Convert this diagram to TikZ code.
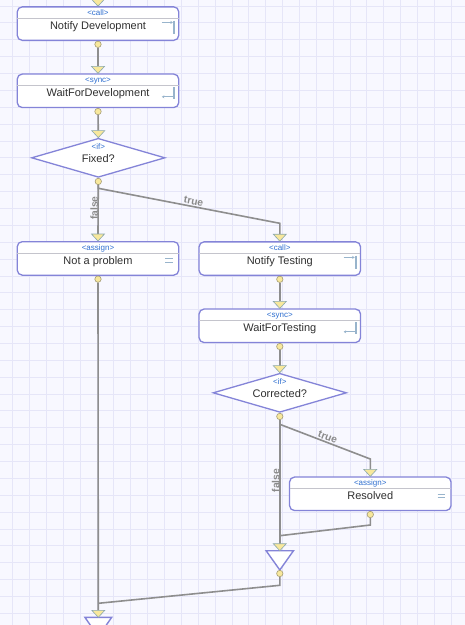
\documentclass[tikz,border=0pt]{standalone}
\usepackage{fontspec}
\setmainfont{Liberation Sans}
\usetikzlibrary{shapes.geometric,arrows.meta,calc}
\pgfdeclarelayer{back}
\pgfdeclarelayer{mid}
\pgfsetlayers{back,mid,main}
\definecolor{bgc}{HTML}{F8F8FF}
\definecolor{gridc}{HTML}{E6E6F8}
\definecolor{boxc}{HTML}{8484D8}
\definecolor{sepc}{HTML}{C4C4CC}
\definecolor{conc}{HTML}{8E8E8E}
\definecolor{yel}{HTML}{F8E89C}
\definecolor{tric}{HTML}{8AA8AC}
\definecolor{dotline}{HTML}{A49C74}
\definecolor{hdrc}{HTML}{2F6FD0}
\definecolor{ttlc}{HTML}{303030}
\definecolor{lblc}{HTML}{8A8A8A}
\definecolor{iconc}{HTML}{98B4CC}
\tikzset{
  actbox/.style={draw=boxc,fill=white,rounded corners=5pt,line width=1.3pt,
    minimum width=161.5pt,minimum height=33.5pt,inner sep=0pt},
  decis/.style={diamond,draw=boxc,fill=white,line width=1.3pt,inner sep=0pt,
    minimum width=133.5pt,minimum height=39pt},
  dotn/.style={circle,draw=dotline,fill=yel,minimum size=6.4pt,inner sep=0pt,line width=0.6pt},
  conn/.style={draw=conc,line width=1.6pt},
  intri/.style={fill=yel,draw=tric,line width=0.6pt},
  mergetri/.style={fill=white,draw=boxc,line width=1.4pt,line join=miter},
  hdr/.style={font=\fontsize{8}{9}\selectfont,text=hdrc,anchor=base,inner sep=0pt},
  ttl/.style={font=\fontsize{11}{13}\selectfont,text=ttlc,anchor=base,inner sep=0pt},
  lbl/.style={font=\bfseries\fontsize{10.3}{12}\selectfont,text=lblc,inner sep=0.8pt},
  iconln/.style={draw=iconc,line width=0.9pt},
  iconbar/.style={draw=iconc,line width=2pt},
  sepln/.style={draw=sepc,line width=0.8pt}
}
% input triangle with tip at #1, and named coordinate #2 at its top
\newcommand{\intri}[2]{%
  \filldraw[intri] ([shift={(-6.5,-7)}]#1) -- ([shift={(6.5,-7)}]#1) -- (#1) -- cycle;
  \coordinate (#2) at ([shift={(0,-7)}]#1);}
% box decorations: header, separator, title
\newcommand{\boxtexts}[3]{%
  \node[hdr] at ([shift={(0,9)}]#1.north) {#2};
  \draw[sepln] ([shift={(0.8,12.3)}]#1.north west) -- ([shift={(-0.8,12.3)}]#1.north east);
  \node[ttl] at ([shift={(0,23.5)}]#1.north) {#3};}
\newcommand{\callicon}[1]{%
  \draw[iconln,-{Stealth[length=2.5pt,width=3pt]}] ([shift={(-17.5,16.2)}]#1.north east) -- ([shift={(-6.5,16.2)}]#1.north east);
  \draw[iconbar] ([shift={(-5,14.5)}]#1.north east) -- ([shift={(-5,27.5)}]#1.north east);}
\newcommand{\syncicon}[1]{%
  \draw[iconln,{Stealth[length=2.5pt,width=3pt]}-] ([shift={(-17.5,23.4)}]#1.north east) -- ([shift={(-6,23.4)}]#1.north east);
  \draw[iconbar] ([shift={(-5,14)}]#1.north east) -- ([shift={(-5,25.8)}]#1.north east);}
\newcommand{\assignicon}[1]{%
  \draw[iconln] ([shift={(-14,17.6)}]#1.north east) -- ([shift={(-6.3,17.6)}]#1.north east);
  \draw[iconln] ([shift={(-14,21)}]#1.north east) -- ([shift={(-6.3,21)}]#1.north east);}
\begin{document}
\begin{tikzpicture}[x=1pt,y=-1pt]
\useasboundingbox (0,0) rectangle (465,625);
\clip (0,0) rectangle (465,625);
\begin{pgfonlayer}{back}
\fill[bgc] (0,0) rectangle (465,625);
\foreach \i in {0,...,27} {\draw[gridc,line width=0.8pt] (12.6+\i*16.87,0) -- (12.6+\i*16.87,625);}
\foreach \i in {0,...,37} {\draw[gridc,line width=0.8pt] (0,6+\i*16.87) -- (465,6+\i*16.87);}
\end{pgfonlayer}

% nodes
\node[actbox] (ND) at (98,23.6) {};
\node[actbox] (WD) at (98,90.8) {};
\node[decis]  (FX) at (98.3,157.8) {};
\node[actbox] (NP) at (98,258.4) {};
\node[actbox] (NT) at (279.8,258.6) {};
\node[actbox] (WT) at (279.8,325.8) {};
\node[decis]  (CR) at (279.8,392.8) {};
\node[actbox] (RS) at (370.3,493.8) {};

% texts
\boxtexts{ND}{<call>}{Notify Development}
\callicon{ND}
\boxtexts{WD}{<sync>}{WaitForDevelopment}
\syncicon{WD}
\node[hdr] at ([shift={(0,12)}]FX.north) {<if>};
\node[ttl] at ([shift={(0,24.4)}]FX.north) {Fixed?};
\boxtexts{NP}{<assign>}{Not a problem}
\assignicon{NP}
\boxtexts{NT}{<call>}{Notify Testing}
\callicon{NT}
\boxtexts{WT}{<sync>}{WaitForTesting}
\syncicon{WT}
\node[hdr] at ([shift={(0,12)}]CR.north) {<if>};
\node[ttl] at ([shift={(0,24.4)}]CR.north) {Corrected?};
\boxtexts{RS}{<assign>}{Resolved}
\assignicon{RS}

% merge triangles
\coordinate (M1) at (279.8,550.7);
\coordinate (M2) at (98.3,617.3);
\filldraw[mergetri] ([shift={(-13.7,0)}]M1) -- ([shift={(13.7,0)}]M1) -- ([shift={(0,19.3)}]M1) -- cycle;
\filldraw[mergetri] ([shift={(-13.4,0)}]M2) -- ([shift={(13.4,0)}]M2) -- ([shift={(0,19.3)}]M2) -- cycle;

% output dots
\node[dotn] (ND-out) at ([shift={(0,3.3)}]ND.south) {};
\node[dotn] (WD-out) at ([shift={(0,3.3)}]WD.south) {};
\node[dotn] (FX-out) at ([shift={(0,3.5)}]FX.south) {};
\node[dotn] (NP-out) at ([shift={(0,3.3)}]NP.south) {};
\node[dotn] (NT-out) at ([shift={(0,3.3)}]NT.south) {};
\node[dotn] (WT-out) at ([shift={(0,3.3)}]WT.south) {};
\node[dotn] (CR-out) at ([shift={(0,3.5)}]CR.south) {};
\node[dotn] (RS-out) at ([shift={(0,3.3)}]RS.south) {};
\node[dotn] (M1-out) at ([shift={(0,22.8)}]M1) {};

% input triangles
\intri{ND.north}{ND-in}
\intri{WD.north}{WD-in}
\intri{FX.north}{FX-in}
\intri{NP.north}{NP-in}
\intri{NT.north}{NT-in}
\intri{WT.north}{WT-in}
\intri{CR.north}{CR-in}
\intri{RS.north}{RS-in}
\intri{M1}{M1-in}
\intri{M2}{M2-in}

% bend points
\coordinate (FXb) at (98.3,188.3);
\coordinate (NTc) at (279.8,223.3);
\coordinate (CRb) at (279.8,424.3);
\coordinate (RSc) at (370.3,459);
\coordinate (RSb) at (370.3,525);
\coordinate (J1) at (279.8,535.7);
\coordinate (M1b) at (279.8,585.3);
\coordinate (J2) at (98.3,603.3);

% connectors (under dots and triangles)
\begin{pgfonlayer}{mid}
\draw[conn] (ND-out) -- (WD-in);
\draw[conn] (WD-out) -- (FX-in);
\draw[conn] (FX-out) -- node[lbl,rotate=90,pos=0.47,yshift=4pt] {false} (NP-in);
\draw[conn] (FX-out) -- (FXb) -- node[lbl,sloped,above,pos=0.52] {true} (NTc) -- (NT-in);
\draw[conn] (NT-out) -- (WT-in);
\draw[conn] (WT-out) -- (CR-in);
\draw[conn] (CR-out) -- node[lbl,rotate=90,pos=0.49,yshift=4pt] {false} (M1-in);
\draw[conn] (CR-out) -- (CRb) -- node[lbl,sloped,above,pos=0.51] {true} (RSc) -- (RS-in);
\draw[conn] (RS-out) -- (RSb) -- (J1);
\draw[conn] (NP-out) -- (M2-in);
\draw[conn] (M1-out) -- (M1b) -- (J2);
\end{pgfonlayer}
\end{tikzpicture}
\end{document}
